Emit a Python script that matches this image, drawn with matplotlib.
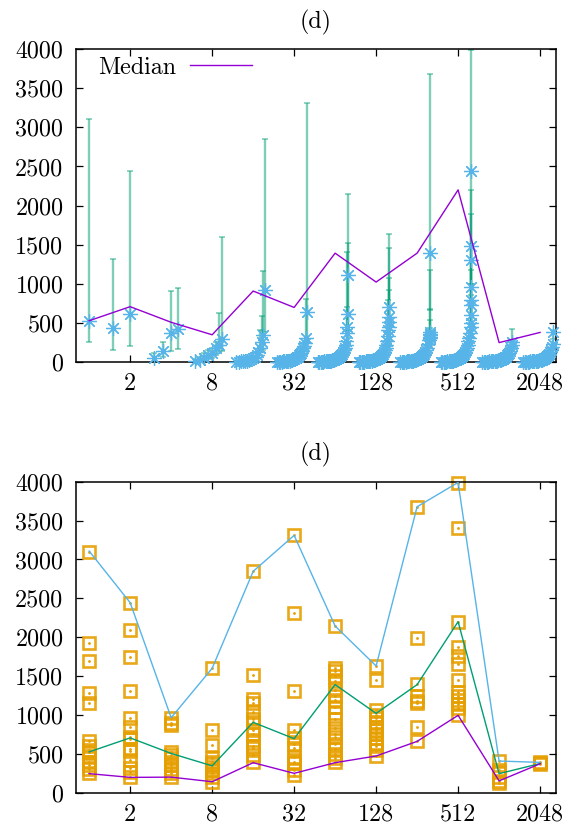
import numpy as np
import matplotlib
matplotlib.use('Agg')
import matplotlib.pyplot as plt
from matplotlib.ticker import NullLocator
from matplotlib.lines import Line2D

plt.rcParams['font.family'] = ['cmr10', 'DejaVu Serif']
plt.rcParams['axes.formatter.use_mathtext'] = True
plt.rcParams['mathtext.fontset'] = 'cm'

# ---------------- data ----------------
group_sizes = [1, 2, 4, 8, 16, 32, 64, 128, 256, 512, 1024, 2048]
xtick_vals = [2, 8, 32, 128, 512, 2048]
xtick_labels = ['2', '8', '32', '128', '512', '2048']
ytick_vals = [0, 500, 1000, 1500, 2000, 2500, 3000, 3500, 4000]
panel_title = '(d)'
legend_label = 'Median'

median_vals = [525, 705, 505, 345, 905, 695, 1390, 1020, 1390, 2200, 245, 375]
max_vals = [3108, 2444, 965, 1600, 2847, 3310, 2144, 1630, 3678, 3991, 407, 390]
min_vals = [245, 197, 200, 141, 386, 249, 386, 472, 660, 995, 152, 372]

# top panel: dense "cloud" of sorted values (no visible error bars)
cloud_1 = []
cloud_2 = []
cloud_4 = []
cloud_8 = []
cloud_16 = [0, 2, 4, 7, 10, 15, 22, 30, 42, 60, 85, 130]
cloud_32 = [0, 0, 1, 2, 3, 5, 7, 9, 12, 15, 19, 24, 30, 37, 45, 55, 67, 80, 95, 115, 140, 170, 205, 240]
cloud_64 = [0, 0, 0, 1, 2, 3, 4, 6, 8, 10, 12, 15, 18, 22, 27, 32, 38, 45, 53, 62, 73, 86, 102, 122, 148, 180, 220, 270]
cloud_128 = [0, 0, 0, 1, 2, 3, 4, 6, 8, 10, 13, 16, 20, 24, 29, 35, 42, 50, 60, 71, 84, 100, 120, 145, 175, 215, 265, 330]
cloud_256 = [0, 0, 0, 1, 2, 3, 4, 6, 8, 10, 13, 16, 20, 25, 30, 36, 43, 52, 62, 74, 88, 105, 125, 150, 182, 222, 275, 340]
cloud_512 = [0, 0, 0, 1, 2, 3, 4, 6, 8, 10, 13, 16, 20, 25, 30, 36, 43, 52, 62, 74, 88, 105, 125, 150, 180, 215, 260, 310, 370, 440]
cloud_1024 = [0, 0, 0, 1, 2, 3, 4, 5, 7, 9, 11, 14, 17, 21, 26, 32, 39, 47, 56, 67, 80, 96, 115, 140, 170, 210]
cloud_2048 = [0, 0, 0, 1, 2, 3, 4, 5, 7, 9, 11, 14, 17, 21, 26, 32, 39, 47, 57, 69, 83, 100, 122, 150, 185, 230]

# top panel: highest-ranked points with min..max error bars
top_1 = [521];            top_1_lo = [248];            top_1_hi = [3107]
top_2 = [427, 611];       top_2_lo = [150, 201];       top_2_hi = [1316, 2445]
top_4 = [51, 141, 363, 423]
top_4_lo = [0, 56, 141, 158]
top_4_hi = [110, 256, 906, 945]
top_8 = [5, 20, 45, 80, 110, 170, 215, 290]
top_8_lo = [0, 0, 10, 30, 50, 90, 120, 140]
top_8_hi = [30, 60, 110, 150, 180, 250, 620, 1600]
top_16 = [170, 256, 342, 919]
top_16_lo = [80, 120, 150, 386]
top_16_hi = [400, 585, 1163, 2851]
top_32 = [300, 641];      top_32_lo = [150, 250];      top_32_hi = [800, 3310]
top_64 = [363, 449, 611, 1111]
top_64_lo = [160, 200, 250, 390]
top_64_hi = [705, 1410, 1517, 2145]
top_128 = [400, 450, 513, 577, 705]
top_128_lo = [180, 200, 250, 300, 470]
top_128_hi = [791, 919, 1068, 1453, 1637]
top_256 = [300, 320, 350, 380, 1398]
top_256_lo = [180, 200, 250, 300, 660]
top_256_hi = [427, 534, 671, 1175, 3680]
top_512 = [500, 600, 727, 791, 962, 1304, 1487, 2436]
top_512_lo = [300, 350, 400, 450, 500, 600, 700, 995]
top_512_hi = [700, 850, 1000, 1175, 1509, 1889, 2201, 3990]
top_1024 = [256];         top_1024_lo = [150];         top_1024_hi = [415]
top_2048 = [385];         top_2048_lo = [286];         top_2048_hi = [400]

# bottom panel: individual values per group
sq_1 = [3100, 1920, 1700, 1280, 1160, 660, 600, 550, 520, 470, 400, 350, 300, 250]
sq_2 = [2440, 2095, 1745, 1310, 955, 840, 720, 690, 560, 530, 420, 320, 270, 200]
sq_4 = [960, 900, 870, 520, 490, 450, 400, 350, 300, 250, 200]
sq_8 = [1600, 800, 610, 440, 400, 370, 330, 290, 250, 200, 140]
sq_16 = [2850, 1520, 1200, 1150, 1040, 950, 910, 800, 750, 680, 600, 570, 480, 400]
sq_32 = [3310, 2315, 1310, 810, 700, 620, 570, 460, 400, 380, 290, 230]
sq_64 = [2140, 1610, 1560, 1500, 1440, 1320, 1250, 1190, 1100, 1020, 950, 830, 750, 720, 630, 560, 500, 440, 390]
sq_128 = [1630, 1450, 1060, 1000, 960, 900, 850, 800, 750, 700, 640, 600, 550, 470]
sq_256 = [3680, 1985, 1400, 1240, 1180, 1150, 840, 660]
sq_512 = [3990, 3410, 2200, 1880, 1760, 1660, 1450, 1290, 1240, 1190, 1140, 1090, 1000]
sq_1024 = [410, 290, 260, 200, 150, 130]
sq_2048 = [390, 380, 370]

clouds = [cloud_1, cloud_2, cloud_4, cloud_8, cloud_16, cloud_32, cloud_64,
          cloud_128, cloud_256, cloud_512, cloud_1024, cloud_2048]
tops = [(top_1, top_1_lo, top_1_hi), (top_2, top_2_lo, top_2_hi),
        (top_4, top_4_lo, top_4_hi), (top_8, top_8_lo, top_8_hi),
        (top_16, top_16_lo, top_16_hi), (top_32, top_32_lo, top_32_hi),
        (top_64, top_64_lo, top_64_hi), (top_128, top_128_lo, top_128_hi),
        (top_256, top_256_lo, top_256_hi), (top_512, top_512_lo, top_512_hi),
        (top_1024, top_1024_lo, top_1024_hi), (top_2048, top_2048_lo, top_2048_hi)]
squares = [sq_1, sq_2, sq_4, sq_8, sq_16, sq_32, sq_64, sq_128, sq_256,
           sq_512, sq_1024, sq_2048]

# ---------------- styling ----------------
C_BLUE = '#56B4E9'
C_GREEN = '#009E73'
C_PURPLE = '#9400D3'
C_ORANGE = '#E69F00'
FS = 17.3

fig = plt.figure(figsize=(5.8, 8.31), dpi=100)
ax1 = fig.add_axes([0.131, 0.5647, 0.8276, 0.3760])
ax2 = fig.add_axes([0.131, 0.0461, 0.8276, 0.3742])


def style_axes(ax):
    ax.set_xscale('log', base=2)
    ax.set_xlim(0.8, 2680)
    ax.set_ylim(0, 4000)
    ax.set_xticks(xtick_vals)
    ax.set_xticklabels(xtick_labels)
    ax.xaxis.set_minor_locator(NullLocator())
    ax.set_yticks(ytick_vals)
    ax.set_yticklabels([str(v) for v in ytick_vals])
    ax.tick_params(direction='in', length=5, width=0.9, top=True, right=True,
                   labelsize=FS, colors='black')
    ax.tick_params(axis='x', pad=8)
    ax.tick_params(axis='y', pad=9)
    for s in ax.spines.values():
        s.set_linewidth(1.1)
    ax.set_title(panel_title, fontsize=FS, pad=15)


star = (8, 2, 0)
STAR_MS = 10.5
STAR_MEW = 0.9

# ---------- top panel ----------
for N, cloud, (tv, tlo, thi) in zip(group_sizes, clouds, tops):
    T = len(tv)
    ranks_t = np.arange(N - T, N)
    xt = N + (ranks_t - N // 2) * 0.5
    if len(cloud) > 0:
        ranks_c = np.linspace(0, N - T - 1, len(cloud))
        xc = N + (ranks_c - N // 2) * 0.5
        ax1.plot(xc, cloud, linestyle='none', marker=star, ms=STAR_MS,
                 mew=STAR_MEW, color=C_BLUE, clip_on=False, zorder=3)
    tv = np.array(tv, float)
    yerr = [tv - np.array(tlo), np.array(thi) - tv]
    ax1.errorbar(xt, tv, yerr=yerr, fmt='none', ecolor=C_GREEN, elinewidth=1.7,
                 capsize=2.2, capthick=1.2, alpha=0.5, zorder=2)
    ax1.plot(xt, tv, linestyle='none', marker=star, ms=STAR_MS, mew=STAR_MEW,
             color=C_BLUE, clip_on=False, zorder=3)

ax1.plot(group_sizes, median_vals, color=C_PURPLE, lw=1.0, zorder=4)
style_axes(ax1)
leg = ax1.legend([Line2D([], [], color=C_PURPLE, lw=1.0)], [legend_label],
                 loc='upper left', bbox_to_anchor=(0.02, 1.015),
                 frameon=False, markerfirst=False,
                 handlelength=2.6, fontsize=FS, borderaxespad=0.2,
                 handletextpad=0.6, borderpad=0.3)

# ---------- bottom panel ----------
for N, vals in zip(group_sizes, squares):
    xs = np.full(len(vals), N, dtype=float)
    ax2.plot(xs, vals, linestyle='none', marker='s', ms=9.2, mew=1.9,
             mfc='none', mec=C_ORANGE, alpha=0.9, zorder=2, clip_on=False)
    ax2.plot(xs, vals, linestyle='none', marker='.', ms=2, color=C_ORANGE,
             zorder=2)
ax2.plot(group_sizes, max_vals, color=C_BLUE, lw=1.0, zorder=3)
ax2.plot(group_sizes, median_vals, color=C_GREEN, lw=1.0, zorder=3)
ax2.plot(group_sizes, min_vals, color=C_PURPLE, lw=1.0, zorder=3)
style_axes(ax2)

fig.savefig('out.png', dpi=100)
